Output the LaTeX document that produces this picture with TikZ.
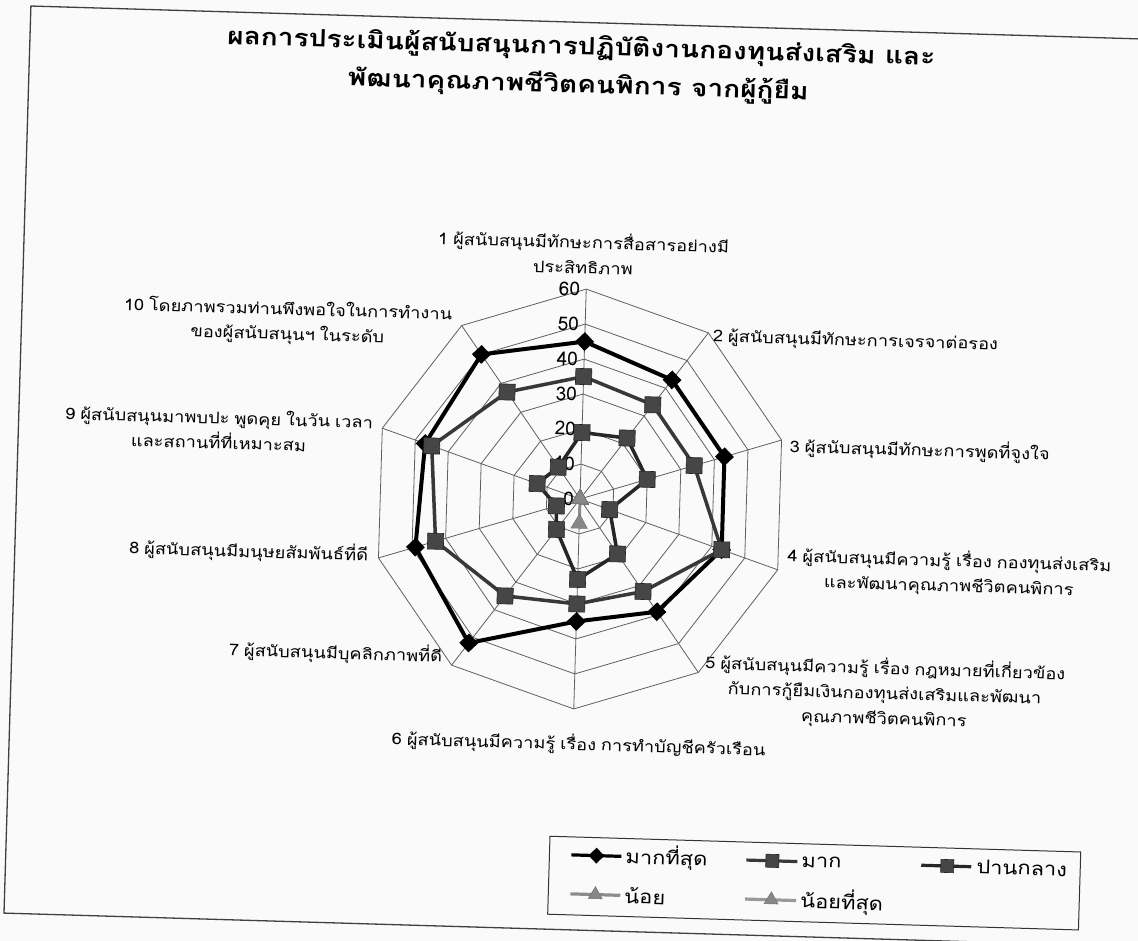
\documentclass[tikz,border=0pt]{standalone}
\usepackage{fontspec}
\setmainfont[Script=Thai]{Loma}
\newfontfamily\labfont[Script=Thai,FakeStretch=1.14,WordSpace=0.8]{Loma}
\newfontfamily\titfont[Script=Thai,FakeStretch=1.17]{Loma}
\newfontfamily\legfont[Script=Thai,FakeStretch=1.15,WordSpace=0.8]{Loma}
\usetikzlibrary{shapes.geometric}
\definecolor{bgc}{RGB}{250,250,250}
\definecolor{gridc}{RGB}{95,95,95}
\definecolor{sqfill}{RGB}{70,70,70}
\definecolor{triA}{RGB}{135,135,135}
\newcommand\radarseries[4]{%
  \foreach \v [count=\i] in {#2} {\coordinate (#1\i) at ({36*\i-126}:{3.5*\v});}
  \draw[#3] (#11) \foreach \j in {2,...,10}{ -- (#1\j)} -- cycle;
  \foreach \i in {1,...,10} {\node[#4] (#1m\i) at (#1\i) {};}
}
\begin{document}
\begin{tikzpicture}[x=1pt,y=-1pt,
  frame/.style={draw=black!75,line width=1.3},
  gridline/.style={draw=gridc,line width=0.8},
  lab/.style={inner sep=0,align=center,font=\labfont\fontsize{16}{25}\selectfont},
  num/.style={inner sep=0,anchor=east,font=\fontsize{19}{20}\selectfont},
  titlet/.style={inner sep=0,anchor=base,font=\titfont\fontsize{24}{30}\selectfont\bfseries},
  legt/.style={inner sep=0,anchor=west,font=\legfont\fontsize{19}{20}\selectfont},
  lineA/.style={draw=black,line width=4,line join=round},
  lineB/.style={draw=black!78,line width=3.5,line join=round},
  lineC/.style={draw=black!85,line width=3.5,line join=round},
  lineD/.style={draw=black!45,line width=3,line join=round},
  lineE/.style={draw=black!40,line width=3,line join=round},
  dmark/.style={diamond,fill=black,inner sep=0,minimum size=19},
  smark/.style={rectangle,fill=sqfill,draw=black!85,line width=0.6,inner sep=0,minimum size=16},
  tmark/.style={regular polygon,regular polygon sides=3,fill=triA,draw=black!55,line width=0.5,inner sep=0,minimum size=19},
]
\useasboundingbox (0,0) rectangle (1138,941);
\fill[bgc] (0,0) rectangle (1138,941);
\clip (0,0) rectangle (1138,941);
\begin{scope}[rotate around={-1.7:(580,499)},transform shape]
  \draw[frame] (16.5,22.5) rectangle (1220,930);
  \node[titlet] (title1) at (568,55) {ผลการประเมินผู้สนับสนุนการปฏิบัติงานกองทุนส่งเสริม และ};
  \node[titlet] (title2) at (566,93) {พัฒนาคุณภาพชีวิตคนพิการ จากผู้กู้ยืม};
  % axis labels
  \node[lab,anchor=south] (l1) at (576,274) {1 ผู้สนับสนุนมีทักษะการสื่อสารอย่างมี\\ประสิทธิภาพ};
  \node[lab,anchor=west] (l2) at (708,333) {2 ผู้สนับสนุนมีทักษะการเจรจาต่อรอง};
  \node[lab,anchor=west] (l3) at (788,440) {3 ผู้สนับสนุนมีทักษะการพูดที่จูงใจ};
  \node[lab,anchor=west] (l4) at (789,562) {4 ผู้สนับสนุนมีความรู้ เรื่อง กองทุนส่งเสริม\\และพัฒนาคุณภาพชีวิตคนพิการ};
  \node[lab,anchor=west] (l5) at (710,684) {5 ผู้สนับสนุนมีความรู้ เรื่อง กฎหมายที่เกี่ยวข้อง\\กับการกู้ยืมเงินกองทุนส่งเสริมและพัฒนา\\คุณภาพชีวิตคนพิการ};
  \node[lab] (l6) at (586,744) {6 ผู้สนับสนุนมีความรู้ เรื่อง การทำบัญชีครัวเรือน};
  \node[lab,anchor=east] (l7) at (447,660) {7 ผู้สนับสนุนมีบุคลิกภาพที่ดี};
  \node[lab,anchor=east] (l8) at (370,561) {8 ผู้สนับสนุนมีมนุษยสัมพันธ์ที่ดี};
  \node[lab,anchor=east] (l9) at (371,440) {9 ผู้สนับสนุนมาพบปะ พูดคุย ในวัน เวลา\\และสถานที่ที่เหมาะสม};
  \node[lab,anchor=east] (l10) at (447,331) {10 โดยภาพรวมท่านพึงพอใจในการทำงาน\\ของผู้สนับสนุนฯ ในระดับ};
  \begin{scope}[shift={(580,499)}]
    \coordinate (O) at (0,0);
    \foreach \k in {1,...,6}
      \draw[gridline] (-90:{35*\k}) \foreach \a in {-54,-18,...,234} {-- (\a:{35*\k})} -- cycle;
    \foreach \a in {-90,-54,...,234}
      \draw[gridline] (O) -- (\a:210);
    \foreach \k in {0,...,6}
      \node[num] (n\k) at (-6,{-35*\k}) {\number\numexpr\k*10\relax};
    \radarseries{A}{45,43,43,43,39,35,52,49,47,50}{lineA}{dmark}
    \radarseries{B}{35,34,34,43,32,30,35,43,45,37}{lineB}{smark}
    \radarseries{C}{19,22,20,9,19,23,11,7,13,11}{lineC}{smark}
    \radarseries{D}{0,0,0,0,0,7,0,0,0,0}{lineD}{tmark}
    \radarseries{E}{0,0,0,0,0,0,0,0,0,0}{lineE}{tmark}
  \end{scope}
  % legend
  \draw[draw=black!80,line width=1] (560,837) rectangle (1091,915);
  \coordinate (k1a) at (582,855); \coordinate (k1b) at (632,855);
  \draw[lineA,line width=3.2] (k1a) -- (k1b);
  \node[dmark,minimum size=16] (k1m) at (607,855) {};
  \node[legt] (k1t) at (636,855) {มากที่สุด};
  \coordinate (k2a) at (757,855); \coordinate (k2b) at (808,855);
  \draw[lineB,line width=3.2] (k2a) -- (k2b);
  \node[smark,minimum size=13] (k2m) at (783,855) {};
  \node[legt] (k2t) at (812,855) {มาก};
  \coordinate (k3a) at (932,855); \coordinate (k3b) at (982,855);
  \draw[lineC,line width=3.2] (k3a) -- (k3b);
  \node[smark,minimum size=13] (k3m) at (958,855) {};
  \node[legt] (k3t) at (987,855) {ปานกลาง};
  \coordinate (k4a) at (582,894); \coordinate (k4b) at (632,894);
  \draw[lineD,line width=3.2] (k4a) -- (k4b);
  \node[tmark,minimum size=16] (k4m) at (607,894) {};
  \node[legt] (k4t) at (636,894) {น้อย};
  \coordinate (k5a) at (757,894); \coordinate (k5b) at (808,894);
  \draw[lineE,line width=3.2] (k5a) -- (k5b);
  \node[tmark,minimum size=16] (k5m) at (783,894) {};
  \node[legt] (k5t) at (812,894) {น้อยที่สุด};
\end{scope}
\end{tikzpicture}
\end{document}
